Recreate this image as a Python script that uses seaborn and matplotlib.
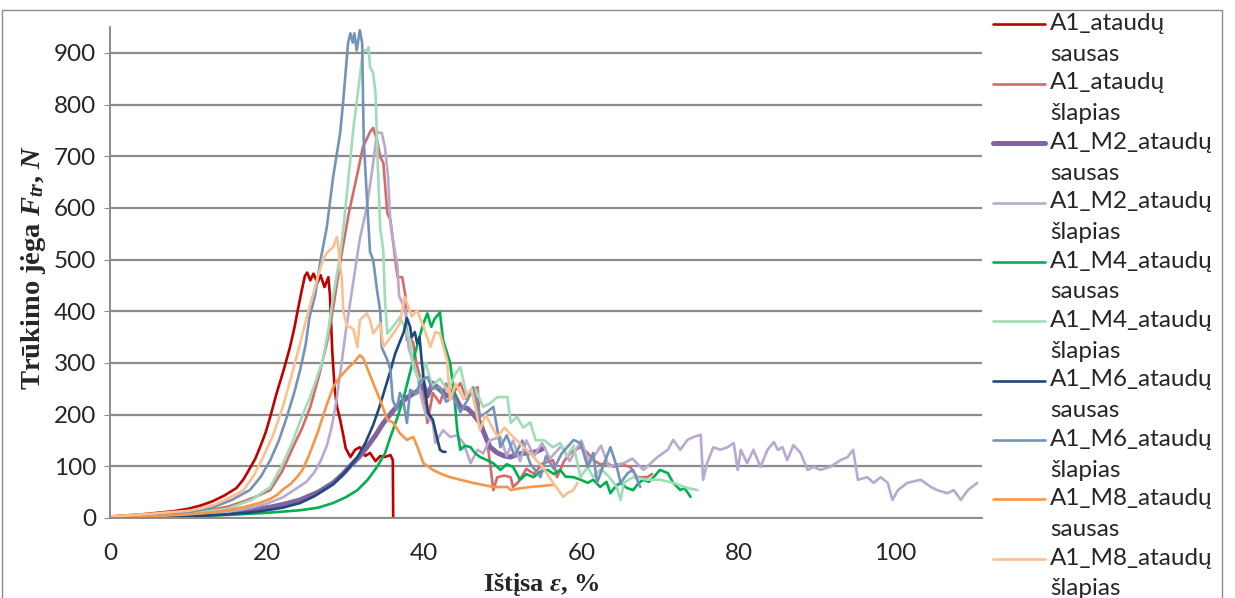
import matplotlib
matplotlib.use("Agg")
import matplotlib.pyplot as plt
import seaborn as sns
from matplotlib.lines import Line2D
from matplotlib.legend_handler import HandlerLine2D

# ---------------- data ----------------
series_labels = [
    "A1_ataudų\nsausas", "A1_ataudų\nšlapias",
    "A1_M2_ataudų\nsausas", "A1_M2_ataudų\nšlapias",
    "A1_M4_ataudų\nsausas", "A1_M4_ataudų\nšlapias",
    "A1_M6_ataudų\nsausas", "A1_M6_ataudų\nšlapias",
    "A1_M8_ataudų\nsausas", "A1_M8_ataudų\nšlapias",
]

x_a1_sausas = [0, 4, 8, 10, 11.5, 13, 14.5, 16.1, 17.0, 17.8, 18.5, 19.1, 19.8, 20.4, 21.2, 22.1,
               22.9, 23.5, 24.0, 24.4, 24.8, 25.1, 25.5, 25.9, 26.4, 26.8, 27.3, 27.8, 28.0, 28.3,
               28.6, 28.9, 29.3, 29.7, 30.0, 30.6, 31.2, 31.8, 32.5, 33.1, 33.8, 34.4, 35.0, 35.7,
               36.0, 36.05]
y_a1_sausas = [3, 7, 13, 18, 24, 32, 43, 58, 75, 96, 115, 137, 165, 196, 241, 286,
               330, 370, 410, 440, 468, 475, 460, 473, 455, 470, 447, 466, 430, 320,
               250, 215, 190, 160, 135, 118, 132, 137, 120, 126, 110, 120, 118, 122,
               112, 0]

x_a1_slapias = [0, 5, 10, 13, 15, 17, 18.7, 20.4, 21.9, 23.3, 24.4, 25.5, 26.6, 27.6, 28.5, 29.3,
                30.4, 31.5, 32.2, 33.1, 33.5, 34.0, 34.4, 34.8, 35.3, 35.7, 35.9, 36.6, 37.2, 37.6,
                37.8, 38.2, 38.6, 39.0, 39.5, 40.0, 40.4, 41.1, 42.0, 42.8, 43.7, 44.6, 45.4, 46.2,
                46.8, 47.1, 48.0, 48.8, 49.3, 50.2, 51.0, 51.3, 52.0, 53.0, 54.0, 55.0, 56.4, 56.9,
                57.8, 58.6, 59.9, 60.8, 61.5, 62.4, 63.3, 64.1, 65.0, 66.2, 67.1, 68.4, 69.0]
y_a1_slapias = [2, 5, 10, 16, 22, 32, 42, 54, 90, 137, 172, 215, 275, 338, 415, 495,
                590, 667, 718, 747, 755, 731, 699, 687, 590, 577, 551, 466, 466, 430,
                344, 350, 338, 300, 270, 230, 184, 242, 222, 260, 242, 261, 230, 248,
                253, 176, 151, 54, 79, 82, 79, 60, 70, 95, 85, 105, 112, 79,
                110, 126, 137, 126, 112, 104, 106, 99, 104, 99, 79, 79, 85]

x_m2_sausas = [0, 5, 10, 15, 17, 20.4, 22.5, 24.2, 26.5, 28.4, 29.5, 30.6, 31.7, 32.7, 33.8, 34.8,
               35.9, 36.9, 38.0, 39.1, 39.9, 40.4, 41.1, 42.0, 42.9, 43.7, 44.6, 45.5, 46.3, 47.1,
               48.0, 48.4, 49.3, 50.2, 51.0, 52.0, 53.1, 54.2, 55.2]
y_m2_sausas = [0, 2, 5, 10, 13, 21, 28, 35, 50, 68, 83, 101, 118, 137, 160, 184,
               205, 222, 235, 245, 258, 236, 261, 248, 236, 242, 215, 212, 200, 184,
               150, 137, 126, 120, 118, 124, 126, 128, 135]

x_m2_slapias = [0, 5, 10, 15, 18, 20, 22, 23.5, 25, 26, 26.8, 27.6, 28.2, 28.8, 29.4, 30.0,
                30.6, 31.2, 31.8, 32.7, 33.5, 34.0, 34.6, 35.0, 35.4, 35.7, 36.0, 36.6, 36.8, 37.6,
                38.0, 38.6, 39.2, 39.6, 40.2, 41.1, 41.4, 42.4, 43.3, 44.2, 45.0, 45.9, 46.8, 47.5,
                48.3, 49.7, 50.5, 51.3, 52.2, 53.0, 54.0, 55.0, 56.0, 57.5, 58.5, 60.0, 61.0, 62.5,
                63.5, 65.4, 66.5, 67.9, 69.7, 71.0, 71.7, 72.6, 73.5, 74.3, 75.2, 75.5, 76.0, 76.8,
                77.7, 78.6, 79.4, 79.9, 80.3, 81.1, 81.9, 82.8, 83.7, 84.5, 85.0, 85.6, 86.2, 87.0,
                87.9, 88.8, 89.6, 90.4, 91.7, 93.0, 93.9, 94.6, 95.2, 96.4, 97.2, 98.1, 99.0, 99.6,
                100.3, 101.5, 103.2, 104.5, 105.3, 106.6, 107.4, 108.3, 109.2, 110.4]
y_m2_slapias = [0, 2, 5, 12, 20, 28, 40, 55, 70, 88, 110, 140, 175, 225, 290, 360,
                420, 480, 540, 602, 687, 747, 745, 718, 660, 570, 540, 486, 430, 402,
                330, 300, 270, 235, 200, 184, 145, 170, 157, 160, 145, 106, 132, 125,
                150, 157, 120, 150, 110, 150, 120, 145, 115, 140, 110, 150, 105, 140,
                100, 106, 115, 93, 118, 132, 151, 132, 151, 157, 161, 74, 106, 137,
                132, 137, 145, 93, 132, 106, 132, 99, 132, 147, 132, 137, 112, 141,
                126, 93, 99, 93, 99, 112, 118, 132, 74, 79, 68, 79, 68, 35,
                54, 68, 74, 60, 54, 48, 54, 35, 54, 68]

x_m4_sausas = [0, 5, 10, 15, 20, 24.2, 26.5, 28.4, 30.0, 31.5, 32.8, 34.0, 35.0, 35.7, 36.6, 37.4,
               38.0, 38.6, 39.3, 39.9, 40.4, 40.9, 41.3, 42.0, 42.4, 43.3, 43.8, 44.2, 44.6, 45.2,
               45.9, 46.5, 47.1, 48.0, 48.8, 49.7, 50.5, 51.3, 52.2, 53.0, 53.9, 54.8, 55.7, 56.5,
               57.3, 58.0, 59.0, 59.9, 60.8, 61.5, 62.4, 63.2, 63.7, 64.4, 65.0, 65.8, 66.6, 67.3,
               67.9, 68.6, 69.2, 70.0, 71.0, 71.7, 72.6, 73.1, 73.5, 73.9]
y_m4_sausas = [0, 1, 3, 6, 10, 15, 20, 29, 40, 54, 74, 99, 125, 157, 195, 234,
               270, 306, 345, 377, 396, 370, 385, 398, 344, 300, 240, 170, 132, 140,
               137, 125, 118, 112, 106, 93, 104, 99, 74, 85, 79, 90, 93, 85,
               93, 80, 79, 74, 68, 74, 60, 70, 48, 62, 68, 58, 54, 68,
               74, 70, 79, 93, 87, 68, 54, 58, 50, 41]

x_m4_slapias = [0, 5, 10, 15, 18, 20.4, 22.0, 23.3, 24.4, 25.5, 26.3, 27.1, 27.8, 28.4, 29.3, 29.7,
                30.3, 31.0, 31.8, 32.2, 32.7, 32.9, 33.1, 33.5, 33.8, 34.1, 34.4, 34.6, 34.8, 35.0,
                35.3, 36.0, 36.9, 37.5, 38.2, 38.6, 39.5, 40.2, 41.0, 42.0, 43.0, 44.0, 44.6, 45.5,
                46.5, 47.5, 48.4, 49.3, 50.6, 51.0, 51.8, 52.6, 53.5, 54.2, 55.2, 56.4, 57.3, 58.2,
                59.0, 59.9, 60.8, 61.5, 62.5, 63.5, 64.5, 65.0, 65.4, 66.6, 68.4, 70.0, 71.7, 73.5,
                74.8]
y_m4_slapias = [2, 4, 8, 18, 35, 60, 105, 150, 195, 235, 270, 306, 365, 428, 510, 560,
                650, 757, 853, 905, 905, 911, 873, 861, 822, 679, 560, 540, 513, 422,
                357, 370, 389, 370, 344, 292, 261, 300, 255, 270, 245, 280, 292, 230,
                250, 215, 222, 234, 234, 184, 196, 175, 185, 150, 151, 137, 145, 120,
                140, 79, 99, 79, 95, 80, 60, 35, 68, 79, 74, 74, 68, 58,
                54]

x_m6_sausas = [0, 5, 10, 15, 18, 20, 22, 24.2, 26.0, 28.4, 30.0, 31.5, 32.5, 33.5, 34.3, 35.0,
               35.7, 36.3, 37.0, 37.4, 37.8, 38.2, 38.4, 38.8, 39.1, 39.4, 39.7, 40.1, 40.5, 41.1,
               41.6, 42.0, 42.4, 42.7]
y_m6_sausas = [0, 1, 3, 7, 11, 15, 20, 29, 42, 65, 90, 118, 145, 180, 215, 250,
               285, 318, 345, 360, 387, 370, 350, 360, 338, 350, 300, 248, 203, 190,
               157, 132, 128, 128]

x_m6_slapias = [0, 5, 10, 13, 15.5, 17.8, 19.2, 20.4, 21.5, 22.5, 23.4, 24.2, 24.9, 25.4, 26.1, 26.8,
                27.6, 28.4, 29.3, 29.7, 30.3, 30.6, 30.9, 31.1, 31.4, 31.8, 32.1, 32.2, 32.3, 32.7,
                33.1, 33.5, 34.0, 34.4, 34.6, 35.3, 35.7, 36.0, 36.5, 36.9, 37.3, 37.8, 38.2, 39.0,
                39.5, 40.4, 41.0, 42.0, 42.8, 43.7, 44.6, 45.5, 46.2, 47.1, 48.0, 48.8, 49.7, 50.5,
                51.5, 52.5, 53.5, 54.8, 55.5, 56.5, 57.5, 59.0, 59.9, 60.8, 61.5, 62.0, 63.0, 63.7,
                64.5, 65.0, 65.9, 66.6, 67.1, 67.5]
y_m6_slapias = [2, 6, 11, 20, 35, 54, 80, 112, 150, 195, 240, 286, 335, 389, 430, 499,
                563, 660, 745, 809, 919, 938, 920, 938, 905, 944, 919, 822, 731, 620,
                515, 499, 440, 400, 330, 306, 286, 228, 210, 242, 230, 184, 248, 240,
                265, 273, 250, 253, 225, 234, 205, 228, 253, 196, 205, 215, 137, 160,
                120, 150, 105, 79, 120, 95, 125, 151, 145, 99, 126, 68, 110, 137,
                100, 68, 87, 93, 74, 60]

x_m8_sausas = [0, 5, 10, 13, 15, 17, 18, 19.2, 20.4, 21.3, 22.0, 23.0, 23.8, 24.5, 25.3, 26.4,
               27.5, 28.4, 29.2, 29.7, 30.4, 31.0, 31.8, 32.2, 32.7, 33.5, 34.4, 35.3, 36.0, 36.9,
               37.8, 38.6, 39.2, 39.9, 41.1, 42.2, 43.3, 44.6, 46.2, 48.8, 50.6, 51.0, 52.0, 53.5,
               55.0, 56.4]
y_m8_sausas = [1, 3, 7, 11, 15, 21, 25, 30, 37, 45, 55, 66, 79, 93, 120, 164,
               215, 253, 272, 280, 292, 300, 315, 310, 292, 261, 228, 190, 185, 164,
               151, 157, 135, 106, 93, 85, 79, 74, 68, 60, 60, 54, 57, 60,
               62, 64]

x_m8_slapias = [0, 5, 10, 12, 13.5, 15, 16.2, 17, 18.3, 19.5, 20.8, 22.0, 23.1, 24.2, 25.1, 25.9,
                26.5, 27.1, 27.6, 28.0, 28.4, 28.9, 29.1, 29.3, 29.5, 29.7, 30.2, 30.6, 31.0, 31.5,
                31.8, 32.7, 33.1, 33.5, 34.4, 34.8, 35.5, 36.2, 36.9, 37.5, 37.8, 38.4, 39.1, 39.9,
                40.8, 41.4, 42.0, 42.9, 43.3, 44.0, 45.0, 46.0, 47.1, 47.8, 49.3, 50.2, 51.3, 52.5,
                53.9, 55.0, 56.4, 57.7, 58.2, 59.0, 59.5]
y_m8_slapias = [3, 8, 14, 20, 27, 38, 47, 54, 82, 118, 162, 215, 275, 338, 392, 435,
                470, 499, 513, 519, 524, 544, 520, 486, 466, 400, 370, 370, 364, 331,
                383, 396, 383, 357, 377, 331, 345, 360, 377, 428, 416, 390, 402, 370,
                331, 360, 357, 306, 228, 260, 230, 250, 170, 200, 157, 175, 157, 140,
                118, 100, 68, 41, 48, 54, 68]

series_x = [x_a1_sausas, x_a1_slapias, x_m2_sausas, x_m2_slapias, x_m4_sausas,
            x_m4_slapias, x_m6_sausas, x_m6_slapias, x_m8_sausas, x_m8_slapias]
series_y = [y_a1_sausas, y_a1_slapias, y_m2_sausas, y_m2_slapias, y_m4_sausas,
            y_m4_slapias, y_m6_sausas, y_m6_slapias, y_m8_sausas, y_m8_slapias]

y_ticks = [0, 100, 200, 300, 400, 500, 600, 700, 800, 900]
x_ticks = [0, 20, 40, 60, 80, 100]

# ---------------- styles ----------------
colors = ["#C00000", "#D46A6A", "#8064A2", "#B9A9CF", "#00B050",
          "#9EDDB8", "#1F497D", "#7393BA", "#F79646", "#FAC090"]
widths = [1.9, 1.9, 3.6, 1.9, 1.9, 1.9, 1.9, 1.9, 1.9, 1.9]

sns.set_style("white")
plt.rcParams['font.family'] = ['Lato', 'DejaVu Sans']
plt.rcParams['mathtext.fontset'] = 'custom'
plt.rcParams['mathtext.it'] = 'Liberation Serif:italic:bold'
plt.rcParams['mathtext.rm'] = 'Liberation Serif:bold'
plt.rcParams['mathtext.bf'] = 'Liberation Serif:bold'

W, H = 1235, 598
Y_TOP = 950
fig = plt.figure(figsize=(W / 100, H / 100), dpi=100)
ax = fig.add_axes([110 / W, 80 / H, (982 - 110) / W, Y_TOP * 0.5167 / H])

for xs, ys, lab, c, lw in zip(series_x, series_y, series_labels, colors, widths):
    sns.lineplot(x=xs, y=ys, ax=ax, color=c, linewidth=lw, sort=False,
                 estimator=None, label=lab)

ax.set_xlim(0, 111)
ax.set_ylim(0, Y_TOP)
ax.set_yticks(y_ticks)
ax.set_xticks(x_ticks)
ax.set_xticklabels([str(v) for v in x_ticks])
ax.set_yticklabels([str(v) for v in y_ticks])
ax.yaxis.grid(True, color="#8C8C8C", linewidth=1.6)
ax.xaxis.grid(False)
ax.set_axisbelow(True)
for s in ["top", "right"]:
    ax.spines[s].set_visible(False)
for s in ["left", "bottom"]:
    ax.spines[s].set_color("#8C8C8C")
    ax.spines[s].set_linewidth(1.4)
ax.tick_params(axis="y", length=4, color="#8C8C8C", labelsize=17.5, pad=6, left=True)
ax.tick_params(axis="x", length=0, labelsize=17.5, pad=18)
ax.set_xlabel("")
ax.set_ylabel("")

fig.text(34 / W, 1 - 268 / H, r"Trūkimo jėga $F_{tr}$, $N$", rotation=90,
         ha="center", va="center", family="Liberation Serif", weight="bold", fontsize=20.5)
fig.text(541 / W, 1 - 585 / H, r"Ištįsa $\varepsilon$, %", ha="center", va="center",
         family="Liberation Serif", weight="bold", fontsize=19)


class FirstLineHandler(HandlerLine2D):
    """Place the legend line next to the first line of a two-line label."""
    def create_artists(self, legend, orig_handle, xdescent, ydescent, width,
                       height, fontsize, trans):
        arts = super().create_artists(legend, orig_handle, xdescent, ydescent,
                                      width, height, fontsize, trans)
        for a in arts:
            a.set_ydata([v + 10.5 for v in a.get_ydata()])
        return arts


handles, labels = ax.get_legend_handles_labels()
ax.get_legend().remove()
leg = fig.legend(handles, labels, loc="upper left", bbox_to_anchor=(993 / W, 1 - 13 / H),
                 bbox_transform=fig.transFigure, frameon=False, borderpad=0,
                 borderaxespad=0, handlelength=2.14, handletextpad=0.2,
                 labelspacing=0.31, fontsize=17.5,
                 handler_map={Line2D: FirstLineHandler()})
for t in leg.get_texts():
    t.set_linespacing(1.58)

# chart-area border
bc = "#8C8C8C"
fig.add_artist(Line2D([2 / W, 2 / W], [0, 1 - 10 / H], color=bc, lw=1))
fig.add_artist(Line2D([2 / W, 1222 / W], [1 - 10 / H, 1 - 10 / H], color=bc, lw=1))
fig.add_artist(Line2D([1222 / W, 1222 / W], [0, 1 - 10 / H], color=bc, lw=1))

fig.savefig("out.png", dpi=100)
